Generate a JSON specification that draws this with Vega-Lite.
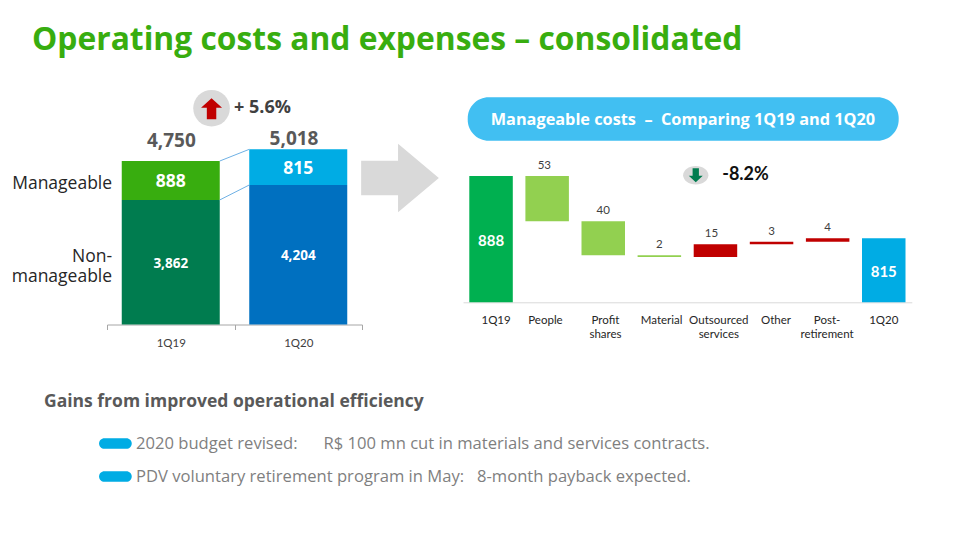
{
"$schema":"https://vega.github.io/schema/vega-lite/v6.json",
"width":960,"height":540,"padding":0,
"autosize":{"type":"fit","contains":"padding"},
"background":"white",
"title":{"text":"Operating costs and expenses – consolidated","anchor":"start","frame":"group","dx":32,"offset":-57,"fontSize":31.8,"font":"Open Sans","fontWeight":"bold","color":"#38AD0F"},
"config":{"view":{"stroke":null}},
"resolve":{"scale":{"x":"independent","y":"independent","color":"independent"},"axis":{"x":"independent","y":"independent"}},
"layer":[
{"layer":[
 {"data":{"values":[
  {"quarter":"1Q19","segment":"Non-manageable 1Q19","order":1,"cost":3862},
  {"quarter":"1Q19","segment":"Manageable 1Q19","order":2,"cost":888},
  {"quarter":"1Q20","segment":"Non-manageable 1Q20","order":1,"cost":4204},
  {"quarter":"1Q20","segment":"Manageable 1Q20","order":2,"cost":815}]},
  "mark":{"type":"bar","size":98},
  "encoding":{
   "x":{"field":"quarter","type":"nominal","title":null,"scale":{"type":"band","domain":["1Q19","1Q20"],"range":[107,362],"paddingInner":0,"paddingOuter":0},
    "axis":{"orient":"bottom","offset":-215.5,"labelAngle":0,"tickBand":"extent","domainColor":"#A6A6A6","tickColor":"#A6A6A6","tickSize":5,"labelPadding":8,"labelFont":"Lato","labelFontSize":11.5,"labelColor":"#404040","grid":false}},
   "y":{"field":"cost","type":"quantitative","stack":"zero","axis":null,"scale":{"domain":[1020,5018],"range":[324.5,149.3],"nice":false,"zero":false,"clamp":true}},
   "color":{"field":"segment","type":"nominal","legend":null,"scale":{"domain":["Non-manageable 1Q19","Manageable 1Q19","Non-manageable 1Q20","Manageable 1Q20"],"range":["#007C4F","#38AD0F","#0070C0","#00ACE4"]}},
   "order":{"field":"order"}}}
]},
{"encoding":{
  "x":{"field":"slot","type":"quantitative","axis":null,"scale":{"domain":[0,2],"range":[107,362],"nice":false,"zero":false}},
  "y":{"field":"level","type":"quantitative","axis":null,"scale":{"domain":[1020,5018],"range":[324.5,149.3],"nice":false,"zero":false}}},
 "layer":[
 {"data":{"values":[
  {"link":"top","slot":0.884,"level":4750},{"link":"top","slot":1.116,"level":5018},
  {"link":"split","slot":0.884,"level":3862},{"link":"split","slot":1.116,"level":4204}]},
  "mark":{"type":"line","color":"#6FB1E5","strokeWidth":1},
  "encoding":{"detail":{"field":"link"}}},
 {"data":{"values":[{"label":"888","slot":0.5,"level":4306},{"label":"815","slot":1.5,"level":4612}]},
  "mark":{"type":"text","font":"Open Sans","fontWeight":"bold","fontSize":17.5,"color":"white","dy":1.5},
  "encoding":{"text":{"field":"label"}}},
 {"data":{"values":[{"label":"3,862","slot":0.5,"level":2441},{"label":"4,204","slot":1.5,"level":2612}]},
  "mark":{"type":"text","font":"Open Sans","fontWeight":"bold","fontSize":13.5,"color":"white","dy":1.5},
  "encoding":{"text":{"field":"label"}}},
 {"data":{"values":[{"label":"4,750","slot":0.505,"level":5209},{"label":"5,018","slot":1.467,"level":5255}]},
  "mark":{"type":"text","font":"Open Sans","fontWeight":"bold","fontSize":19,"color":"#595959"},
  "encoding":{"text":{"field":"label"}}},
 {"data":{"values":[{"label":"Manageable","slot":0.04,"level":4235},{"label":"Non-\nmanageable","slot":0.04,"level":2550}]},
  "mark":{"type":"text","font":"Open Sans","fontSize":17.5,"color":"#262626","align":"right","lineBreak":"\n","lineHeight":20},
  "encoding":{"text":{"field":"label"}}},
 {"data":{"values":[{"slot":0.82,"level":5956}]},
  "mark":{"type":"point","shape":"circle","filled":true,"size":1340,"color":"#D9D9D9","opacity":1}},
 {"data":{"values":[{"slot":0.82,"level":5945}]},
  "mark":{"type":"point","shape":"M 0 -1 L 1 -0.1 L 0.45 -0.1 L 0.45 1 L -0.45 1 L -0.45 -0.1 L -1 -0.1 Z","filled":true,"size":441,"color":"#C00000","opacity":1}},
 {"data":{"values":[{"label":"+ 5.6%","slot":0.996,"level":5956}]},
  "mark":{"type":"text","font":"Open Sans","fontWeight":"bold","fontSize":18,"color":"#404040","align":"left"},
  "encoding":{"text":{"field":"label"}}}
]},
{"data":{"values":[
  {"step":"1Q19","start":0,"end":888,"kind":"1Q19"},
  {"step":"People","start":888,"end":835,"kind":"decrease"},
  {"step":"Profit shares","start":835,"end":795,"kind":"decrease"},
  {"step":"Material","start":795,"end":793,"kind":"decrease"},
  {"step":"Outsourced services","start":793,"end":808,"kind":"increase"},
  {"step":"Other","start":808,"end":811,"kind":"increase"},
  {"step":"Post-retirement","start":811,"end":815,"kind":"increase"},
  {"step":"1Q20","start":0,"end":815,"kind":"1Q20"}]},
 "mark":{"type":"bar","size":43.5},
 "encoding":{
  "x":{"field":"step","type":"nominal","title":null,"sort":null,"scale":{"type":"band","domain":["1Q19","People","Profit shares","Material","Outsourced services","Other","Post-retirement","1Q20"],"range":[463,911.8],"paddingInner":0,"paddingOuter":0},
   "axis":{"orient":"bottom","offset":-237.7,"labels":false,"ticks":false,"domainColor":"#D9D9D9","grid":false}},
  "y":{"field":"start","type":"quantitative","axis":null,"scale":{"domain":[740,888],"range":[302.3,176],"nice":false,"zero":false,"clamp":true}},
  "y2":{"field":"end"},
  "color":{"field":"kind","type":"nominal","legend":null,"scale":{"domain":["1Q19","decrease","increase","1Q20"],"range":["#00B050","#92D050","#C00000","#00ACE4"]}}}},
{"encoding":{
  "x":{"field":"slot","type":"quantitative","axis":null,"scale":{"domain":[0,8],"range":[463,911.8],"nice":false,"zero":false}},
  "y":{"field":"level","type":"quantitative","axis":null,"scale":{"domain":[740,888],"range":[302.3,176],"nice":false,"zero":false}}},
 "layer":[
 {"data":{"values":[{"slot":0.084,"slot2":7.766,"level":929.4,"level2":980.3}]},
  "mark":{"type":"rect","color":"#41BFF2","cornerRadius":21},
  "encoding":{"x2":{"field":"slot2"},"y2":{"field":"level2"}}},
 {"data":{"values":[{"label":"Manageable costs \u00A0–\u00A0 Comparing 1Q19 and 1Q20","slot":3.92,"level":954}]},
  "mark":{"type":"text","font":"Open Sans","fontWeight":"bold","fontSize":16.3,"color":"white"},
  "encoding":{"text":{"field":"label"}}},
 {"data":{"values":[{"slot":-1.123,"level":885.7}]},
  "mark":{"type":"point","shape":"M -1 -0.445 L -0.05 -0.445 L -0.05 -0.883 L 1 0 L -0.05 0.883 L -0.05 0.445 L -1 0.445 Z","filled":true,"size":6037,"color":"#D9D9D9","opacity":1}},
 {"data":{"values":[{"slot":4.149,"level":889}]},
  "mark":{"type":"point","shape":"M -1 0 A 1 0.73 0 1 1 1 0 A 1 0.73 0 1 1 -1 0 Z","filled":true,"size":640,"color":"#D9D9D9","opacity":1}},
 {"data":{"values":[{"slot":4.149,"level":889}]},
  "mark":{"type":"point","shape":"M 0 1 L 1 0.1 L 0.45 0.1 L 0.45 -1 L -0.45 -1 L -0.45 0.1 L -1 0.1 Z","filled":true,"size":196,"color":"#007C4F","opacity":1}},
 {"data":{"values":[{"label":"-8.2%","slot":4.62,"level":889}]},
  "mark":{"type":"text","font":"Lato","fontWeight":"bold","fontSize":18,"color":"#111111","align":"left"},
  "encoding":{"text":{"field":"label"}}},
 {"data":{"values":[{"label":"888","slot":0.5,"level":814},{"label":"815","slot":7.5,"level":777.5}]},
  "mark":{"type":"text","font":"Lato","fontWeight":"bold","fontSize":15,"color":"white","dy":1.5},
  "encoding":{"text":{"field":"label"}}},
 {"data":{"values":[{"label":"53","slot":1.45,"level":888},{"label":"40","slot":2.5,"level":835},{"label":"2","slot":3.5,"level":795},{"label":"15","slot":4.43,"level":808},{"label":"3","slot":5.5,"level":811},{"label":"4","slot":6.5,"level":815}]},
  "mark":{"type":"text","font":"Lato","fontSize":11.5,"color":"#404040","dy":-10},
  "encoding":{"text":{"field":"label"}}},
 {"data":{"values":[
   {"label":"1Q19","slot":0.59,"level":725.7},{"label":"People","slot":1.47,"level":725.7},{"label":"Profit\nshares","slot":2.54,"level":725.7},{"label":"Material","slot":3.54,"level":725.7},
   {"label":"Outsourced\nservices","slot":4.56,"level":725.7},{"label":"Other","slot":5.58,"level":725.7},{"label":"Post-\nretirement","slot":6.49,"level":725.7},{"label":"1Q20","slot":7.5,"level":725.7}]},
  "mark":{"type":"text","font":"Lato","fontSize":11.5,"color":"#262626","baseline":"top","lineBreak":"\n","lineHeight":14.3},
  "encoding":{"text":{"field":"label"}}}
]},
{"encoding":{
  "x":{"field":"column","type":"nominal","axis":null,"scale":{"type":"point","domain":["bullet","note"],"range":[115.4,136],"padding":0}},
  "y":{"field":"line","type":"nominal","axis":null,"scale":{"type":"point","domain":["heading","note1","note2"],"range":[410.5,476.5],"padding":0}}},
 "layer":[
 {"data":{"values":[{"column":"bullet","line":"heading","label":"Gains from improved operational efficiency"}]},
  "mark":{"type":"text","font":"Open Sans","fontWeight":"bold","fontSize":17.5,"color":"#595959","align":"left","dy":-8.5,"dx":-71.4},
  "encoding":{"text":{"field":"label"}}},
 {"data":{"values":[{"column":"bullet","line":"note1"},{"column":"bullet","line":"note2"}]},
  "mark":{"type":"point","shape":"M -0.675 -0.325 L 0.675 -0.325 A 0.325 0.325 0 0 1 0.675 0.325 L -0.675 0.325 A 0.325 0.325 0 0 1 -0.675 -0.325 Z","filled":true,"size":1069,"color":"#00ACE4","opacity":1}},
 {"data":{"values":[
   {"column":"note","line":"note1","label":"2020 budget revised:\u00A0\u00A0\u00A0\u00A0\u00A0\u00A0R$ 100 mn cut in materials and services contracts."},
   {"column":"note","line":"note2","label":"PDV voluntary retirement program in May:\u00A0\u00A0\u00A08-month payback expected."}]},
  "mark":{"type":"text","font":"Open Sans","fontSize":16.6,"color":"#7F7F7F","align":"left"},
  "encoding":{"text":{"field":"label"}}}
]}
]}
